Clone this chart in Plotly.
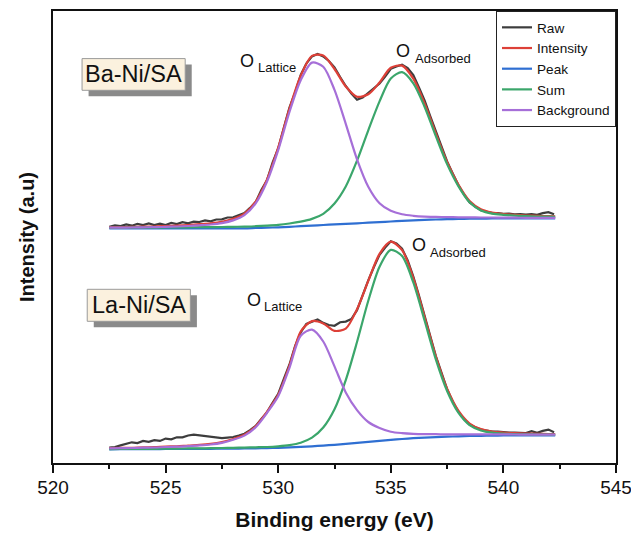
import plotly.graph_objects as go

# ---------------- data (binding energy in eV, intensity in arbitrary units) ----------------
energy_fit = [522.5, 523.0, 523.5, 524.0, 524.5, 525.0, 525.5, 526.0, 526.5, 527.0,
              527.5, 528.0, 528.5, 529.0, 529.5, 530.0, 530.5, 531.0, 531.5, 532.0,
              532.5, 533.0, 533.5, 534.0, 534.5, 535.0, 535.5, 536.0, 536.5, 537.0,
              537.5, 538.0, 538.5, 539.0, 539.5, 540.0, 540.5, 541.0, 541.5, 542.0, 542.3]

energy_raw = [522.5, 522.75, 523.0, 523.25, 523.5, 523.75, 524.0, 524.25, 524.5, 524.75,
              525.0, 525.25, 525.5, 525.75, 526.0, 526.25, 526.5, 526.75, 527.0, 527.25,
              527.5, 527.75, 528.0, 528.25, 528.5, 528.75, 529.0, 529.25, 529.5, 529.75,
              530.0, 530.25, 530.5, 530.75, 531.0, 531.25, 531.5, 531.75, 532.0, 532.25,
              532.5, 532.75, 533.0, 533.25, 533.5, 533.75, 534.0, 534.25, 534.5, 534.75,
              535.0, 535.25, 535.5, 535.75, 536.0, 536.25, 536.5, 536.75, 537.0, 537.25,
              537.5, 537.75, 538.0, 538.25, 538.5, 538.75, 539.0, 539.25, 539.5, 539.75,
              540.0, 540.25, 540.5, 540.75, 541.0, 541.25, 541.5, 541.75, 542.0, 542.25]

# Ba-Ni/SA (upper, offset spectrum)
ba_raw = [236.3, 237.7, 236.9, 238.5, 237.3, 239.0, 237.9, 239.5, 237.9, 239.4,
          238.0, 240.0, 238.9, 240.9, 239.6, 241.4, 241.0, 242.6, 241.7, 243.5,
          243.7, 245.5, 245.6, 247.7, 249.9, 255.1, 260.9, 273.1, 282.7, 300.3,
          314.5, 335.3, 355.3, 370.3, 388.1, 399.5, 406.6, 409.0, 406.5, 402.0,
          395.5, 386.0, 377.0, 369.5, 363.3, 365.5, 370.2, 375.0, 379.5, 386.5,
          394.2, 396.5, 398.4, 395.0, 387.8, 375.5, 362.6, 346.8, 331.0, 316.0,
          301.5, 289.5, 278.0, 268.5, 260.5, 256.5, 252.7, 251.3, 249.9, 250.0,
          249.2, 249.3, 248.6, 248.8, 248.3, 248.8, 248.1, 249.9, 250.8, 248.7]
ba_envelope = [235.8, 235.9, 236.1, 236.4, 236.5, 237.0, 237.4, 238.0, 238.8, 239.7,
               241.2, 244.1, 249.4, 261.4, 283.3, 315.3, 354.3, 387.3, 407.1, 407.5,
               394.0, 376.5, 366.3, 368.7, 380.5, 395.2, 397.4, 384.3, 359.6, 329.5,
               301.0, 278.5, 262.0, 253.7, 250.4, 249.0, 248.1, 247.5, 247.1, 246.8, 246.7]
ba_base = [234.7, 234.7, 234.7, 234.7, 234.7, 234.7, 234.7, 234.7, 234.7, 234.7,
           234.7, 234.7, 234.7, 235.0, 235.3, 235.7, 236.2, 236.8, 237.4, 238.0,
           238.6, 239.2, 239.7, 240.3, 240.9, 241.5, 242.1, 242.6, 243.1, 243.5,
           243.8, 244.1, 244.3, 244.4, 244.5, 244.5, 244.6, 244.6, 244.6, 244.7, 244.7]
ba_adsorbed = [235.1, 235.2, 235.3, 235.4, 235.4, 235.5, 235.6, 235.7, 235.8, 235.9,
               236.0, 236.2, 236.3, 236.8, 237.4, 238.2, 239.5, 241.3, 244.1, 249.2,
               259.5, 276.5, 302.3, 332.7, 361.6, 384.5, 390.8, 379.7, 356.3, 326.9,
               298.9, 276.9, 260.7, 252.6, 249.4, 248.2, 247.4, 246.9, 246.5, 246.3, 246.2]
ba_lattice = [235.4, 235.4, 235.5, 235.7, 235.8, 236.2, 236.5, 237.0, 237.7, 238.5,
              239.9, 242.6, 247.8, 259.6, 281.2, 312.8, 351.0, 382.8, 400.4, 396.3,
              373.1, 339.2, 303.7, 276.3, 259.8, 252.2, 248.7, 247.2, 246.4, 246.1,
              245.9, 245.7, 245.6, 245.5, 245.5, 245.3, 245.3, 245.2, 245.2, 245.2, 245.2]

# La-Ni/SA (lower spectrum)
la_raw = [15.3, 16.0, 17.6, 19.2, 20.7, 19.9, 22.1, 21.2, 22.8, 22.1,
          24.4, 23.6, 25.7, 25.6, 27.5, 28.3, 27.6, 27.1, 26.1, 25.5,
          24.9, 25.4, 26.0, 27.5, 29.3, 32.9, 37.0, 44.0, 50.6, 60.3,
          69.2, 84.0, 98.5, 117.0, 130.5, 139.0, 141.1, 143.5, 140.1, 138.0,
          137.2, 140.8, 141.4, 144.0, 152.8, 168.5, 182.6, 196.0, 208.2, 215.5,
          221.8, 219.5, 214.4, 202.5, 186.4, 167.5, 147.0, 127.5, 107.0, 90.5,
          73.8, 61.5, 51.3, 44.0, 38.5, 35.8, 33.4, 32.4, 31.3, 31.3,
          30.7, 30.5, 30.3, 29.9, 29.9, 31.8, 30.2, 32.1, 33.4, 30.8]
la_envelope = [14.8, 15.1, 15.2, 15.6, 15.8, 16.4, 16.7, 17.5, 18.1, 19.1,
               20.9, 24.0, 28.3, 36.8, 51.1, 68.2, 97.5, 131.5, 141.9, 139.6,
               132.2, 134.4, 153.8, 182.1, 209.2, 221.3, 212.9, 184.9, 146.0, 106.5,
               74.3, 52.3, 39.5, 33.9, 31.5, 30.5, 29.8, 29.4, 29.2, 28.9, 28.8]
la_base = [13.7, 13.8, 13.8, 13.9, 13.9, 14.0, 14.0, 14.1, 14.1, 14.2,
           14.3, 14.4, 14.5, 14.7, 14.9, 15.2, 15.6, 16.1, 16.7, 17.4,
           18.2, 19.1, 20.1, 21.1, 22.1, 23.1, 24.0, 24.8, 25.4, 25.9,
           26.3, 26.7, 27.0, 27.2, 27.4, 27.5, 27.6, 27.6, 27.7, 27.7, 27.7]
la_adsorbed = [13.9, 14.0, 14.0, 14.2, 14.2, 14.4, 14.4, 14.6, 14.6, 14.8,
               15.0, 15.2, 15.4, 15.7, 16.0, 16.7, 17.9, 20.3, 25.3, 35.5,
               53.8, 82.9, 121.0, 162.2, 196.3, 213.1, 207.0, 180.5, 142.5, 103.6,
               72.0, 50.3, 37.9, 32.5, 30.3, 29.4, 28.9, 28.6, 28.5, 28.3, 28.2]
la_lattice = [14.6, 14.9, 15.0, 15.3, 15.5, 16.0, 16.3, 17.0, 17.6, 18.5,
              20.2, 23.2, 27.4, 35.8, 50.0, 66.7, 95.2, 127.3, 133.3, 121.5,
              96.6, 70.6, 52.9, 41.0, 35.0, 31.3, 29.9, 29.2, 28.9, 28.8,
              28.6, 28.7, 28.6, 28.6, 28.6, 28.6, 28.5, 28.4, 28.4, 28.3, 28.3]

legend_names = ["Raw", "Intensity", "Peak", "Sum", "Background"]
x_ticks = [520, 525, 530, 535, 540, 545]

# ---------------- styling ----------------
COL_RAW = "#3d3d3d"
COL_INT = "#dd4038"
COL_PEAK = "#2f6fd2"
COL_SUM = "#3ba66b"
COL_BG = "#a66fd8"
FONT = "Arial, Liberation Sans, sans-serif"
LW = 2.2

fig = go.Figure()

spectra = [
    (ba_raw, ba_envelope, ba_base, ba_adsorbed, ba_lattice, True),
    (la_raw, la_envelope, la_base, la_adsorbed, la_lattice, False),
]
for raw, env, base, ads, lat, show in spectra:
    fig.add_trace(go.Scatter(x=energy_raw, y=raw, mode="lines", name=legend_names[0],
                             line=dict(color=COL_RAW, width=LW), showlegend=show))
    fig.add_trace(go.Scatter(x=energy_fit, y=env, mode="lines", name=legend_names[1],
                             line=dict(color=COL_INT, width=LW, shape="spline", smoothing=0.8),
                             showlegend=show))
    fig.add_trace(go.Scatter(x=energy_fit, y=base, mode="lines", name=legend_names[2],
                             line=dict(color=COL_PEAK, width=LW, shape="spline", smoothing=0.8),
                             showlegend=show))
    fig.add_trace(go.Scatter(x=energy_fit, y=ads, mode="lines", name=legend_names[3],
                             line=dict(color=COL_SUM, width=LW, shape="spline", smoothing=0.8),
                             showlegend=show))
    fig.add_trace(go.Scatter(x=energy_fit, y=lat, mode="lines", name=legend_names[4],
                             line=dict(color=COL_BG, width=LW, shape="spline", smoothing=0.8),
                             showlegend=show))

# ---------------- sample label boxes (with drop shadow) ----------------
boxes = [
    ("Ba-Ni/SA", 521.29, 525.87, 372.7, 404.4),
    ("La-Ni/SA", 521.52, 526.10, 141.7, 173.7),
]
SHADOW_DX = 0.29   # eV
SHADOW_DY = 6.0    # intensity units (~px)
for text, x0, x1, y0, y1 in boxes:
    fig.add_shape(type="rect", xref="x", yref="y",
                  x0=x0 + SHADOW_DX, x1=x1 + SHADOW_DX, y0=y0 - SHADOW_DY, y1=y1 - SHADOW_DY,
                  fillcolor="#8a8a8a", line=dict(width=0), layer="above")
    fig.add_shape(type="rect", xref="x", yref="y", x0=x0, x1=x1, y0=y0, y1=y1,
                  fillcolor="#fbf1de", line=dict(color="#9a9a9a", width=1), layer="above")
    fig.add_annotation(x=(x0 + x1) / 2, y=(y0 + y1) / 2, xref="x", yref="y",
                       text=text, showarrow=False, xanchor="center", yanchor="middle",
                       font=dict(family=FONT, size=23.5, color="#111111"))

# ---------------- peak labels ----------------
peak_labels = [
    (528.22, 402.4, 529.0, 395.2, "Lattice"),
    (535.13, 412.4, 535.97, 405.0, "Adsorbed"),
    (528.51, 163.0, 529.28, 156.9, "Lattice"),
    (535.84, 217.7, 536.63, 210.4, "Adsorbed"),
]
for ox, oy, sx, sy, sub in peak_labels:
    fig.add_annotation(x=ox, y=oy, xref="x", yref="y", text="O", showarrow=False,
                       xanchor="left", yanchor="middle",
                       font=dict(family=FONT, size=18, color="#111111"))
    fig.add_annotation(x=sx, y=sy, xref="x", yref="y", text=sub, showarrow=False,
                       xanchor="left", yanchor="middle",
                       font=dict(family=FONT, size=13, color="#111111"))

fig.update_layout(
    width=631, height=533,
    margin=dict(l=53, r=15, t=11, b=70, autoexpand=False),
    paper_bgcolor="white", plot_bgcolor="white",
    font=dict(family=FONT, color="#111111"),
    showlegend=True,
    legend=dict(x=1, xanchor="right", y=1, yanchor="top",
                bgcolor="white", bordercolor="#222222", borderwidth=1,
                font=dict(family=FONT, size=13.6, color="#111111"),
                tracegroupgap=0, itemwidth=30),
    xaxis=dict(range=[520, 545], tickvals=x_ticks, ticktext=[str(v) for v in x_ticks],
               automargin=False, ticklabeloverflow="allow", ticklabelstandoff=-2,
               ticks="outside", ticklen=8, tickwidth=1.5, tickcolor="#111111",
               minor=dict(dtick=2.5, tick0=520, ticks="outside", ticklen=4,
                          tickwidth=1.5, tickcolor="#111111"),
               showline=True, linecolor="#111111", linewidth=1.5, mirror=True,
               showgrid=False, zeroline=False,
               tickfont=dict(family=FONT, size=19, color="#111111"),
               title=dict(text="<b>Binding energy (eV)</b>", standoff=16,
                          font=dict(family=FONT, size=21, color="#111111"))),
    yaxis=dict(range=[0, 452], showticklabels=False, ticks="", automargin=False,
               showline=True, linecolor="#111111", linewidth=1.5, mirror=True,
               showgrid=False, zeroline=False,
               title=dict(text="<b>Intensity (a.u)</b>", standoff=11,
                          font=dict(family=FONT, size=20, color="#111111"))),
)

fig.write_html("out.html", config={"displayModeBar": False},
               post_script="document.body.style.margin='0';document.body.style.overflow='hidden';")
